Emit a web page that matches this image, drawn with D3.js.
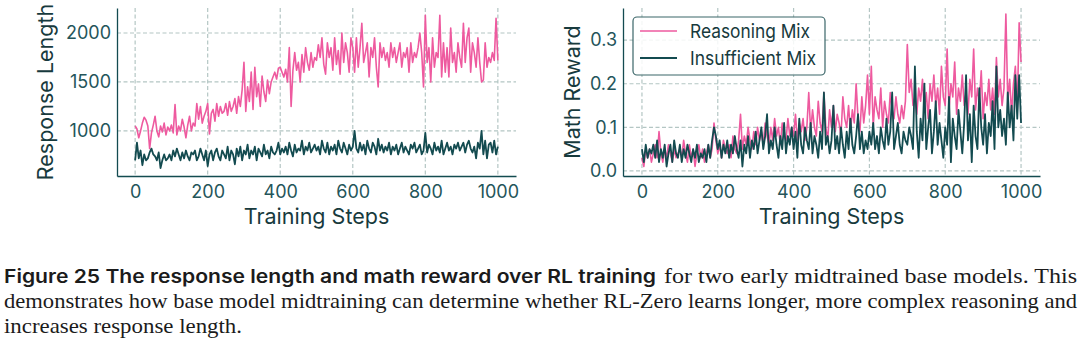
<!DOCTYPE html>
<html>
<head>
<meta charset="utf-8">
<script src="https://cdn.jsdelivr.net/npm/d3@7"></script>
<style>
  html, body { margin: 0; padding: 0; background: #fff; }
  svg { display: block; }
</style>
</head>
<body>
<svg width="1080" height="341"></svg>
<script>
// training steps sampled every 5 steps, 0..1000
const steps = d3.range(0, 1001, 5);

const seriesNames = ["Reasoning Mix", "Insufficient Mix"];

// response length, reasoning mix
const lengthReasoning = [
  1050, 1020, 930, 1000, 1080, 1140, 1110, 1050, 820, 980, 1060, 1150, 1000, 940, 1050, 990, 1080, 960, 1040, 1000,
  1060, 980, 1270, 960, 1050, 1000, 1120, 1040, 930, 1060, 1150, 1000, 1080, 1050, 1280, 1120, 1250, 1080, 1150, 1200,
  1280, 970, 1180, 1220, 1100, 1280, 1150, 1250, 1180, 1200, 1280, 1160, 1300, 1200, 1250, 1330, 1180, 1350, 1250, 1420,
  1700, 1200, 1450, 1300, 1600, 1220, 1650, 1350, 1480, 1250, 1560, 1400, 1300, 1520, 1380, 1500, 1550, 1600, 1530, 1640,
  1650, 1600, 1550, 1630, 1500, 1850, 1250, 1620, 1800, 1620, 1700, 1500, 1780, 1600, 1850, 1700, 1620, 1800, 1650, 1750,
  1720, 1880, 1750, 1950, 1680, 1580, 1900, 1750, 1850, 1620, 1950, 1680, 1820, 1580, 2000, 1700, 1900, 1800, 1600, 1950,
  1850, 1600, 1950, 1650, 1850, 2100, 1700, 1800, 1900, 1550, 1850, 1750, 1950, 1650, 1450, 1900, 1750, 1850, 1720, 1800,
  1650, 1900, 1750, 1850, 1700, 1800, 1900, 1650, 1800, 1750, 1850, 1600, 1900, 1700, 1800, 1750, 1850, 2000, 1800, 1450,
  2180, 1700, 1850, 1500, 1950, 1650, 1800, 1750, 2180, 1550, 1900, 1600, 1850, 1550, 2050, 1700, 1800, 1600, 1900, 1750,
  1650, 2100, 1700, 1950, 2050, 1600, 1900, 1800, 1650, 1950, 1700, 1500, 1520, 1900, 1650, 1750, 1700, 1800, 1720, 2150,
  1720
];

// response length, insufficient mix
const lengthInsufficient = [
  700, 880, 720, 800, 650, 760, 700, 720, 780, 820, 760, 740, 700, 780, 620, 700, 760, 700, 720, 760,
  700, 800, 740, 820, 760, 700, 780, 720, 800, 740, 700, 780, 760, 800, 700, 740, 820, 760, 700, 800,
  640, 760, 800, 700, 780, 820, 740, 700, 800, 760, 720, 840, 700, 800, 760, 660, 820, 740, 840, 700,
  800, 760, 860, 720, 800, 760, 840, 700, 820, 780, 740, 860, 760, 800, 720, 840, 780, 760, 800, 880,
  760, 820, 780, 840, 760, 880, 800, 740, 860, 780, 820, 800, 900, 760, 840, 800, 880, 780, 820, 860,
  800, 840, 760, 900, 820, 780, 880, 760, 840, 800, 860, 760, 900, 820, 780, 880, 820, 760, 860, 800,
  840, 1000, 820, 780, 880, 800, 860, 760, 900, 820, 780, 880, 840, 760, 920, 800, 860, 780, 840, 800,
  880, 760, 840, 800, 860, 760, 820, 880, 780, 840, 800, 760, 860, 820, 880, 780, 820, 860, 760, 800,
  980, 780, 860, 820, 760, 880, 800, 840, 780, 900, 760, 820, 880, 800, 840, 760, 860, 820, 880, 800,
  840, 880, 780, 860, 900, 820, 780, 840, 720, 880, 820, 1000, 760, 900, 720, 860, 880, 780, 900, 760,
  840
];

// math reward, reasoning mix
const rewardReasoning = [
  0.03, 0.01, 0.05, 0.03, 0.05, 0.02, 0.04, 0.06, 0.03, 0.09, 0.04, 0.02, 0.05, 0.03, 0.06, 0.04, 0.02, 0.05, 0.03, 0.04,
  0.05, 0.03, 0.07, 0.04, 0.02, 0.06, 0.03, 0.05, 0.01, 0.04, 0.06, 0.03, 0.05, 0.02, 0.04, 0.06, 0.03, 0.05, 0.11, 0.07,
  0.04, 0.06, 0.03, 0.07, 0.05, 0.04, 0.06, 0.03, 0.08, 0.05, 0.04, 0.07, 0.13, 0.05, 0.08, 0.06, 0.10, 0.07, 0.05, 0.09,
  0.06, 0.10, 0.07, 0.09, 0.06, 0.11, 0.08, 0.06, 0.10, 0.07, 0.12, 0.08, 0.10, 0.06, 0.11, 0.08, 0.07, 0.12, 0.08, 0.10,
  0.08, 0.13, 0.07, 0.11, 0.09, 0.12, 0.07, 0.10, 0.18, 0.09, 0.14, 0.10, 0.08, 0.16, 0.11, 0.09, 0.18, 0.10, 0.07, 0.14,
  0.10, 0.15, 0.09, 0.13, 0.11, 0.08, 0.17, 0.12, 0.10, 0.15, 0.09, 0.14, 0.11, 0.20, 0.12, 0.09, 0.17, 0.11, 0.15, 0.22,
  0.13, 0.24, 0.10, 0.17, 0.14, 0.12, 0.19, 0.10, 0.16, 0.13, 0.11, 0.18, 0.14, 0.12, 0.17, 0.13, 0.11, 0.15, 0.12, 0.16,
  0.29, 0.18, 0.21, 0.15, 0.17, 0.13, 0.19, 0.16, 0.21, 0.14, 0.18, 0.12, 0.20, 0.16, 0.22, 0.15, 0.19, 0.13, 0.24, 0.17,
  0.15, 0.28, 0.14, 0.20, 0.17, 0.25, 0.13, 0.19, 0.16, 0.22, 0.15, 0.18, 0.13, 0.21, 0.17, 0.28, 0.14, 0.19, 0.16, 0.23,
  0.12, 0.18, 0.15, 0.21, 0.14, 0.19, 0.13, 0.26, 0.17, 0.21, 0.15, 0.19, 0.36, 0.16, 0.21, 0.13, 0.20, 0.24, 0.14, 0.34,
  0.25
];

// math reward, insufficient mix
const rewardInsufficient = [
  0.05, 0.02, 0.06, 0.03, 0.05, 0.04, 0.06, 0.03, 0.07, 0.02, 0.05, 0.03, 0.06, 0.01, 0.04, 0.06, 0.02, 0.07, 0.04, 0.03,
  0.06, 0.02, 0.05, 0.03, 0.06, 0.04, 0.02, 0.05, 0.03, 0.06, 0.02, 0.04, 0.03, 0.05, 0.02, 0.06, 0.03, 0.07, 0.10, 0.08,
  0.05, 0.07, 0.03, 0.06, 0.04, 0.07, 0.03, 0.06, 0.04, 0.08, 0.05, 0.03, 0.07, 0.01, 0.06, 0.04, 0.08, 0.03, 0.07, 0.05,
  0.09, 0.04, 0.07, 0.10, 0.05, 0.08, 0.13, 0.04, 0.07, 0.05, 0.10, 0.06, 0.03, 0.08, 0.05, 0.11, 0.04, 0.08, 0.06, 0.10,
  0.05, 0.09, 0.03, 0.12, 0.06, 0.04, 0.10, 0.07, 0.05, 0.11, 0.04, 0.08, 0.06, 0.03, 0.09, 0.05, 0.18, 0.06, 0.08, 0.04,
  0.07, 0.15, 0.05, 0.08, 0.04, 0.10, 0.06, 0.03, 0.09, 0.05, 0.12, 0.06, 0.04, 0.08, 0.13, 0.05, 0.09, 0.04, 0.07, 0.05,
  0.09, 0.06, 0.11, 0.05, 0.08, 0.04, 0.10, 0.07, 0.05, 0.12, 0.06, 0.09, 0.18, 0.05, 0.08, 0.11, 0.06, 0.04, 0.09, 0.07,
  0.06, 0.10, 0.08, 0.05, 0.24, 0.09, 0.03, 0.12, 0.07, 0.20, 0.05, 0.10, 0.14, 0.04, 0.09, 0.16, 0.06, 0.11, 0.07, 0.03,
  0.10, 0.06, 0.17, 0.02, 0.12, 0.08, 0.05, 0.14, 0.09, 0.04, 0.11, 0.22, 0.07, 0.13, 0.02, 0.15, 0.08, 0.05, 0.19, 0.10,
  0.06, 0.13, 0.04, 0.11, 0.08, 0.16, 0.05, 0.24, 0.10, 0.14, 0.08, 0.12, 0.06, 0.18, 0.10, 0.15, 0.07, 0.22, 0.12, 0.22,
  0.11
];

const xTicks = [0, 200, 400, 600, 800, 1000];
const lengthTicks = [1000, 1500, 2000];
const rewardTicks = [0.0, 0.1, 0.2, 0.3];

(function () {
  "use strict";
  const svg = d3.select("svg");
  const pink = "#ee5a9f";
  const teal = "#134b50";
  const tickColor = "#24555a";
  const labelColor = "#173a3d";
  const gridColor = "#b4c6c4";
  const font = "Inter, 'Open Sans', sans-serif";

  function panel(opts) {
    const x = d3.scaleLinear().domain([-50, 1050]).range([opts.left, opts.right]);
    const y = d3.scaleLinear().domain(opts.yDomain).range([opts.bottom, opts.top]);
    const g = svg.append("g");

    // dashed grid
    g.append("g")
      .selectAll("line")
      .data(xTicks)
      .join("line")
      .attr("x1", d => x(d)).attr("x2", d => x(d))
      .attr("y1", opts.top).attr("y2", opts.bottom)
      .attr("stroke", gridColor).attr("stroke-width", 1.2)
      .attr("stroke-dasharray", "4,2.5");
    g.append("g")
      .selectAll("line")
      .data(opts.yTicks)
      .join("line")
      .attr("x1", opts.left).attr("x2", opts.right)
      .attr("y1", d => y(d)).attr("y2", d => y(d))
      .attr("stroke", gridColor).attr("stroke-width", 1.2)
      .attr("stroke-dasharray", "4,2.5");

    const line = d3.line().x((d, i) => x(steps[i])).y(d => y(d));
    g.append("path")
      .attr("d", line(opts.a))
      .attr("fill", "none").attr("stroke", pink)
      .attr("stroke-width", 1.6).attr("stroke-linejoin", "round");
    g.append("path")
      .attr("d", line(opts.b))
      .attr("fill", "none").attr("stroke", teal)
      .attr("stroke-width", 1.8).attr("stroke-linejoin", "round");

    // axes: left + bottom spines only, no tick marks
    const xAxis = g.append("g")
      .attr("transform", `translate(0,${opts.bottom})`)
      .call(d3.axisBottom(x).tickValues(xTicks).tickFormat(d3.format("d")).tickSize(0).tickPadding(9));
    const yAxis = g.append("g")
      .attr("transform", `translate(${opts.left},0)`)
      .call(d3.axisLeft(y).tickValues(opts.yTicks).tickFormat(opts.fmt).tickSize(0).tickPadding(6));
    [xAxis, yAxis].forEach(a => {
      a.select(".domain").attr("stroke", teal).attr("stroke-width", 1.3);
      a.selectAll("text")
        .attr("font-family", font).attr("font-size", 18)
        .attr("fill", tickColor);
    });

    g.append("text")
      .attr("x", (x(0) + x(1000)) / 2).attr("y", 224)
      .attr("text-anchor", "middle")
      .attr("font-family", font).attr("font-size", 21.5)
      .attr("fill", labelColor)
      .text("Training Steps");
    g.append("text")
      .attr("transform", `translate(${opts.labelX},${(opts.top + opts.bottom) / 2}) rotate(-90)`)
      .attr("text-anchor", "middle")
      .attr("font-family", font).attr("font-size", 21.5)
      .attr("fill", labelColor)
      .text(opts.yLabel);
    return { x, y, g };
  }

  panel({
    left: 117, right: 516, top: 8, bottom: 176,
    yDomain: [540, 2255], yTicks: lengthTicks, fmt: d3.format("d"),
    a: lengthReasoning, b: lengthInsufficient,
    yLabel: "Response Length", labelX: 53
  });

  const right = panel({
    left: 623, right: 1040, top: 8, bottom: 176,
    yDomain: [-0.0118, 0.374], yTicks: rewardTicks, fmt: d3.format(".1f"),
    a: rewardReasoning, b: rewardInsufficient,
    yLabel: "Math Reward", labelX: 580
  });

  // legend
  const legend = right.g.append("g");
  legend.append("rect")
    .attr("x", 633).attr("y", 17).attr("width", 192).attr("height", 58)
    .attr("rx", 4)
    .attr("fill", "#fff").attr("fill-opacity", 0.85)
    .attr("stroke", "#3b6669").attr("stroke-width", 1.2);
  const rows = legend.selectAll("g.row")
    .data(seriesNames)
    .join("g")
    .attr("class", "row")
    .attr("transform", (d, i) => `translate(0,${31 + i * 27})`);
  rows.append("line")
    .attr("x1", 640).attr("x2", 677)
    .attr("stroke", (d, i) => (i === 0 ? pink : teal))
    .attr("stroke-width", (d, i) => (i === 0 ? 1.6 : 1.9));
  rows.append("text")
    .attr("x", 690).attr("y", 7)
    .attr("font-family", font).attr("font-size", 19)
    .attr("textLength", (d, i) => (i === 0 ? 120 : 126))
    .attr("lengthAdjust", "spacingAndGlyphs")
    .attr("fill", labelColor)
    .text(d => d);

  // caption
  const serif = "'Liberation Serif', 'DejaVu Serif', serif";
  const cap = svg.append("g").attr("fill", "#1b1b1b");
  cap.append("text")
    .attr("x", 4).attr("y", 283)
    .attr("font-family", font).attr("font-weight", 600).attr("font-size", 18.5)
    .attr("textLength", 652).attr("lengthAdjust", "spacingAndGlyphs")
    .text("Figure 25  The response length and math reward over RL training");
  cap.append("text")
    .attr("x", 664).attr("y", 283)
    .attr("font-family", serif).attr("font-size", 21.5)
    .attr("textLength", 413).attr("lengthAdjust", "spacingAndGlyphs")
    .text("for two early midtrained base models. This");
  cap.append("text")
    .attr("x", 4).attr("y", 308)
    .attr("font-family", serif).attr("font-size", 21.5)
    .attr("textLength", 1073).attr("lengthAdjust", "spacingAndGlyphs")
    .text("demonstrates how base model midtraining can determine whether RL-Zero learns longer, more complex reasoning and");
  cap.append("text")
    .attr("x", 4).attr("y", 333)
    .attr("font-family", serif).attr("font-size", 21.5)
    .attr("textLength", 238).attr("lengthAdjust", "spacingAndGlyphs")
    .text("increases response length.");
})(d3);
</script>
</body>
</html>
